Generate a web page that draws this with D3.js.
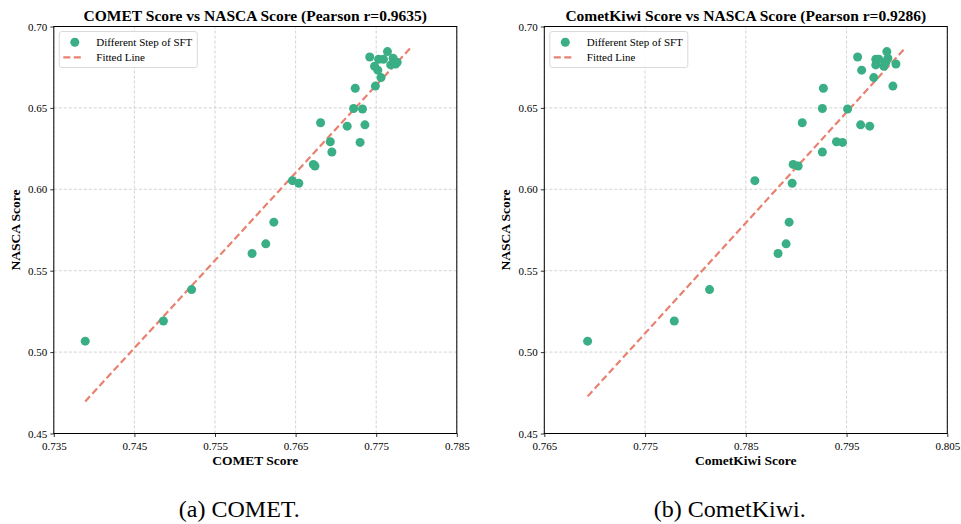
<!DOCTYPE html>
<html>
<head>
<meta charset="utf-8">
<script src="https://cdn.jsdelivr.net/npm/d3@7"></script>
<style>
  body { margin: 0; background: #fff; }
  svg text { font-family: "Liberation Serif", "Times New Roman", serif !important; }
</style>
</head>
<body>
<div id="chart"></div>
<script>
// NASCA score of each SFT step (shared by both panels)
var nasca = [0.5067, 0.5191, 0.5384, 0.5606, 0.5665, 0.5798, 0.6053, 0.6037, 0.6153, 0.6143,
             0.6229, 0.6292, 0.6288, 0.6409, 0.6388, 0.6396, 0.6496, 0.6493, 0.6621, 0.6634,
             0.6686, 0.6732, 0.6813, 0.6846, 0.6799, 0.6799, 0.6805, 0.6764, 0.6770, 0.6756, 0.6780];
var comet = [0.7389, 0.7486, 0.7521, 0.7596, 0.7613, 0.7623, 0.7646, 0.7654, 0.7672, 0.7674,
             0.7695, 0.7693, 0.7730, 0.7681, 0.7714, 0.7736, 0.7722, 0.7733, 0.7724, 0.7749,
             0.7756, 0.7752, 0.7742, 0.7764, 0.7753, 0.7759, 0.7771, 0.7768, 0.7774, 0.7748, 0.7776];
var cometKiwi = [0.7693, 0.7779, 0.7814, 0.7882, 0.7890, 0.7893, 0.7859, 0.7896, 0.7897, 0.7902,
                 0.7926, 0.7940, 0.7946, 0.7906, 0.7973, 0.7964, 0.7926, 0.7951, 0.7927, 0.7996,
                 0.7977, 0.7965, 0.7961, 0.7990, 0.7979, 0.7982, 0.7991, 0.7979, 0.7999, 0.7987, 0.7989];

// fitted line end points
var cometFitX = [0.7389, 0.7794], cometFitY = [0.4697, 0.6876];
var kiwiFitX = [0.7693, 0.8007], kiwiFitY = [0.4728, 0.6860];

var cometTicks = [0.735, 0.745, 0.755, 0.765, 0.775, 0.785];
var kiwiTicks = [0.765, 0.775, 0.785, 0.795, 0.805];
var nascaTicks = [0.45, 0.50, 0.55, 0.60, 0.65, 0.70];

var dotColor = "#3aae84", lineColor = "#e88170";
var serif = "'Liberation Serif', 'Times New Roman', serif";

var svg = d3.select("#chart").append("svg")
  .attr("width", 961)
  .attr("height", 524)
  .attr("font-family", serif);

function drawPanel(opts) {
  var x = d3.scaleLinear().domain(opts.xDomain).range([opts.left, opts.left + 403]);
  var y = d3.scaleLinear().domain([0.45, 0.70]).range([433.5, 26.5]);
  var g = svg.append("g");

  // grid
  g.append("g").selectAll("line").data(opts.xTicks).enter().append("line")
    .attr("x1", d => x(d)).attr("x2", d => x(d))
    .attr("y1", y(0.45)).attr("y2", y(0.70))
    .attr("stroke", "#c8c8c8").attr("stroke-width", 0.8).attr("stroke-dasharray", "3,2");
  g.append("g").selectAll("line").data(nascaTicks).enter().append("line")
    .attr("x1", x.range()[0]).attr("x2", x.range()[1])
    .attr("y1", d => y(d)).attr("y2", d => y(d))
    .attr("stroke", "#c8c8c8").attr("stroke-width", 0.8).attr("stroke-dasharray", "3,2");

  // axes
  var xAxis = g.append("g")
    .attr("transform", "translate(0," + y(0.45) + ")")
    .call(d3.axisBottom(x).tickValues(opts.xTicks).tickFormat(d3.format(".3f")).tickSizeOuter(0).tickSize(3.5));
  var yAxis = g.append("g")
    .attr("transform", "translate(" + x.range()[0] + ",0)")
    .call(d3.axisLeft(y).tickValues(nascaTicks).tickFormat(d3.format(".2f")).tickSizeOuter(0).tickSize(3.5));
  [xAxis, yAxis].forEach(function(a) {
    a.attr("font-family", serif);
    a.select(".domain").remove();
    a.selectAll("text").style("font-size", "11px").attr("fill", "#000");
    a.selectAll("line").attr("stroke", "#000").attr("stroke-width", 0.8);
  });
  xAxis.selectAll("text").attr("dy", "0.95em");

  // frame
  g.append("rect")
    .attr("x", x.range()[0]).attr("y", y(0.70))
    .attr("width", x.range()[1] - x.range()[0]).attr("height", y(0.45) - y(0.70))
    .attr("fill", "none").attr("stroke", "#000").attr("stroke-width", 1);

  // fitted line
  var fit = opts.fitX.map((d, i) => [d, opts.fitY[i]]);
  g.append("path")
    .datum(fit)
    .attr("d", d3.line().x(d => x(d[0])).y(d => y(d[1])))
    .attr("stroke", lineColor).attr("stroke-width", 2.2).attr("stroke-dasharray", "7,3.5")
    .attr("fill", "none");

  // dots
  g.append("g").selectAll("circle")
    .data(opts.xs.map((d, i) => [d, nasca[i]]))
    .enter().append("circle")
      .attr("cx", d => x(d[0]))
      .attr("cy", d => y(d[1]))
      .attr("r", 4.5)
      .attr("fill", dotColor);

  var cx = (x.range()[0] + x.range()[1]) / 2;

  // title and labels
  g.append("text")
    .attr("x", cx).attr("y", 20.5)
    .attr("text-anchor", "middle")
    .style("font-size", "15.5px").style("font-weight", "bold")
    .text(opts.title);
  g.append("text")
    .attr("x", cx).attr("y", 465)
    .attr("text-anchor", "middle")
    .style("font-size", "13.5px").style("font-weight", "bold")
    .text(opts.xLabel);
  g.append("text")
    .attr("transform", "translate(" + (x.range()[0] - 34) + "," + 230 + ") rotate(-90)")
    .attr("text-anchor", "middle")
    .style("font-size", "13.5px").style("font-weight", "bold")
    .text("NASCA Score");

  // legend
  var lx = x.range()[0] + 5.5, ly = 31.5;
  g.append("rect")
    .attr("x", lx).attr("y", ly).attr("width", 138).attr("height", 36).attr("rx", 2.5)
    .attr("fill", "#fff").attr("fill-opacity", 0.85).attr("stroke", "#d0d0d0").attr("stroke-width", 0.8);
  g.append("circle")
    .attr("cx", lx + 15.5).attr("cy", ly + 10.8).attr("r", 4.5).attr("fill", dotColor);
  g.append("line")
    .attr("x1", lx + 4).attr("x2", lx + 24).attr("y1", ly + 25.8).attr("y2", ly + 25.8)
    .attr("stroke", lineColor).attr("stroke-width", 2.2).attr("stroke-dasharray", "7,3.5");
  g.append("text").attr("x", lx + 37).attr("y", ly + 14.5).style("font-size", "11px").text("Different Step of SFT");
  g.append("text").attr("x", lx + 37).attr("y", ly + 29.5).style("font-size", "11px").text("Fitted Line");

  // caption
  g.append("text")
    .attr("x", cx - 16).attr("y", 517)
    .attr("text-anchor", "middle")
    .style("font-size", "24px")
    .text(opts.caption);
}

drawPanel({
  left: 53.8, xDomain: [0.735, 0.785], xTicks: cometTicks, xs: comet,
  fitX: cometFitX, fitY: cometFitY,
  title: "COMET Score vs NASCA Score (Pearson r=0.9635)",
  xLabel: "COMET Score", caption: "(a) COMET."
});
drawPanel({
  left: 544.3, xDomain: [0.765, 0.805], xTicks: kiwiTicks, xs: cometKiwi,
  fitX: kiwiFitX, fitY: kiwiFitY,
  title: "CometKiwi Score vs NASCA Score (Pearson r=0.9286)",
  xLabel: "CometKiwi Score", caption: "(b) CometKiwi."
});
</script>
</body>
</html>
